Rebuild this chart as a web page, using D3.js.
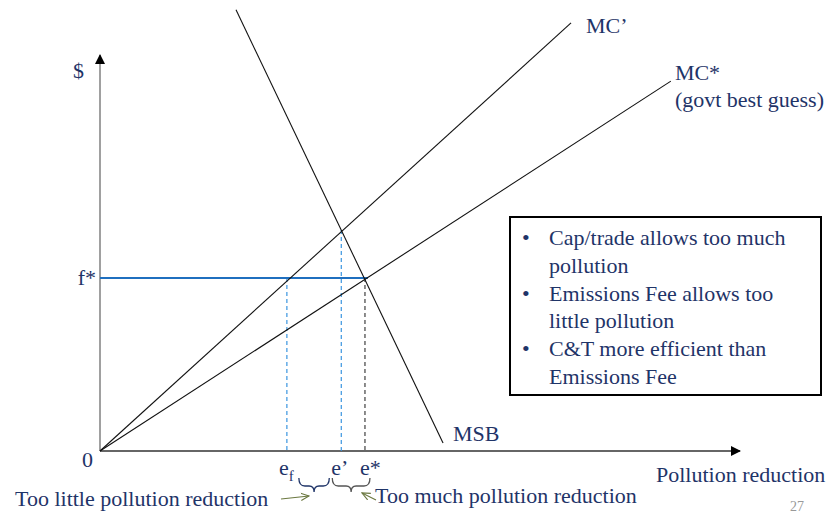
<!DOCTYPE html>
<html>
<head>
<meta charset="utf-8">
<script src="https://cdn.jsdelivr.net/npm/d3@7"></script>
<style>
  body { margin: 0; background: #fff; }
  text { font-family: "Times New Roman", "Liberation Serif", "DejaVu Serif", serif; fill: #1f3468; }
</style>
</head>
<body>
<div id="chart"></div>
<script>
// Chart values (in chart units, x = pollution reduction, y = $)
var mcPrime = [[0, 0], [73.6, 108.1]];
var mcStar = [[0, 0], [89.2, 93.4]];
var msb = [[21.25, 111.4], [53.6, 2.0]];
var fStar = 43.7;
var eF = 29.2;
var ePrime = 37.7;
var ePrimeY = 55.8;
var eStar = 41.4;
var bullets = [
  ["Cap/trade allows too much", "pollution"],
  ["Emissions Fee allows too", "little pollution"],
  ["C&T more efficient than", "Emissions Fee"]
];

var svgWidth = 836;
var svgHeight = 513;
var serif = "'Times New Roman', 'Liberation Serif', 'DejaVu Serif', serif";

var svg = d3.select("#chart")
  .append("svg")
  .attr("width", svgWidth)
  .attr("height", svgHeight);

var defs = svg.append("defs");
defs.append("marker")
  .attr("id", "tri")
  .attr("viewBox", "0 0 10 10")
  .attr("refX", 9).attr("refY", 5)
  .attr("markerWidth", 10).attr("markerHeight", 10)
  .attr("markerUnits", "userSpaceOnUse")
  .attr("orient", "auto")
  .append("path").attr("d", "M0,0 L10,5 L0,10 Z").attr("fill", "#000");
defs.append("marker")
  .attr("id", "open")
  .attr("viewBox", "0 0 10 10")
  .attr("refX", 9).attr("refY", 5)
  .attr("markerWidth", 9).attr("markerHeight", 9)
  .attr("markerUnits", "userSpaceOnUse")
  .attr("orient", "auto")
  .append("path").attr("d", "M0,1 L9,5 L0,9").attr("fill", "none")
  .attr("stroke", "#6b7840").attr("stroke-width", 1.3);

// scales
var x = d3.scaleLinear().domain([0, 100]).range([100, 740]);
var y = d3.scaleLinear().domain([0, 100]).range([451, 55]);

var line = d3.line().x(d => x(d[0])).y(d => y(d[1]));

// axes
svg.append("line")
  .attr("x1", x(0)).attr("y1", y(0))
  .attr("x2", x(0)).attr("y2", y(100))
  .attr("stroke", "#808080").attr("stroke-width", 1.5)
  .attr("marker-end", "url(#tri)");
svg.append("line")
  .attr("x1", x(0)).attr("y1", y(0))
  .attr("x2", x(100)).attr("y2", y(0))
  .attr("stroke", "#333").attr("stroke-width", 1.3)
  .attr("marker-end", "url(#tri)");

// dashed guides
svg.append("line")
  .attr("x1", x(eF)).attr("y1", y(fStar))
  .attr("x2", x(eF)).attr("y2", y(0))
  .attr("stroke", "#3a95e0").attr("stroke-width", 1.2)
  .attr("stroke-dasharray", "4,3");
svg.append("line")
  .attr("x1", x(ePrime)).attr("y1", y(ePrimeY))
  .attr("x2", x(ePrime)).attr("y2", y(0))
  .attr("stroke", "#3a95e0").attr("stroke-width", 1.2)
  .attr("stroke-dasharray", "4,3");
svg.append("line")
  .attr("x1", x(eStar)).attr("y1", y(fStar))
  .attr("x2", x(eStar)).attr("y2", y(0))
  .attr("stroke", "#666").attr("stroke-width", 1.5)
  .attr("stroke-dasharray", "4,3");

// f* line
svg.append("line")
  .attr("x1", x(0)).attr("y1", y(fStar))
  .attr("x2", x(eStar) + 3).attr("y2", y(fStar))
  .attr("stroke", "#1f6fbf").attr("stroke-width", 2);

// curves
[mcPrime, mcStar, msb].forEach(d => {
  svg.append("path")
    .attr("d", line(d))
    .attr("fill", "none")
    .attr("stroke", "#111")
    .attr("stroke-width", 1.1);
});

// labels
function label(tx, ty, s, anchor) {
  return svg.append("text")
    .attr("x", tx).attr("y", ty)
    .attr("font-family", serif)
    .attr("font-size", 22)
    .attr("text-anchor", anchor || "start")
    .text(s);
}
label(73, 78, "$");
label(x(0) - 4, y(fStar) + 7, "f*", "end");
label(x(0) - 7, y(0) + 16, "0", "end");
label(x(mcPrime[1][0]) + 15, y(mcPrime[1][1]) + 10, "MC\u2019");
label(x(mcStar[1][0]) + 4, y(mcStar[1][1]) - 1, "MC*");
label(x(mcStar[1][0]) + 4, y(mcStar[1][1]) + 26, "(govt best guess)");
label(x(msb[1][0]) + 10, y(msb[1][1]) - 2, "MSB");
label(656, 482, "Pollution reduction");

var efText = label(x(eF) - 8, 475, "e");
efText.append("tspan").attr("dy", 6).attr("font-size", 15).text("f");
label(x(ePrime) - 10, 475, "e\u2019");
label(x(eStar) - 5, 475, "e*");

label(15, 506, "Too little pollution reduction");
label(375, 503, "Too much pollution reduction");

svg.append("text")
  .attr("x", 790).attr("y", 511)
  .attr("font-family", serif)
  .attr("font-size", 14)
  .style("fill", "#999")
  .text("27");

// braces
function brace(x1, x2, yTop, color) {
  var m = (x1 + x2) / 2, h = 8;
  var p = `M${x1},${yTop} Q${x1},${yTop + h} ${x1 + 6},${yTop + h}` +
    ` L${m - 5},${yTop + h} Q${m},${yTop + h} ${m},${yTop + h + 6}` +
    ` Q${m},${yTop + h} ${m + 5},${yTop + h}` +
    ` L${x2 - 6},${yTop + h} Q${x2},${yTop + h} ${x2},${yTop}`;
  svg.append("path").attr("d", p).attr("fill", "none")
    .attr("stroke", color).attr("stroke-width", 1.3);
}
brace(x(eF) + 12, x(ePrime) - 12, 478, "#1f3468");
brace(x(ePrime) - 9, x(eStar) + 5, 478, "#555");

// arrows
svg.append("line")
  .attr("x1", 281).attr("y1", 499)
  .attr("x2", 309).attr("y2", 496)
  .attr("stroke", "#6b7840").attr("stroke-width", 1.2)
  .attr("marker-end", "url(#open)");
svg.append("line")
  .attr("x1", 376).attr("y1", 500)
  .attr("x2", 362).attr("y2", 493)
  .attr("stroke", "#6b7840").attr("stroke-width", 1.2)
  .attr("marker-end", "url(#open)");

// text box
var box = svg.append("g").attr("transform", "translate(510,217)");
box.append("rect")
  .attr("width", 311).attr("height", 178)
  .attr("fill", "#fff").attr("stroke", "#000").attr("stroke-width", 2);
bullets.forEach((b, i) => {
  var by = 28 + i * 55.5;
  box.append("text").attr("x", 12).attr("y", by)
    .attr("font-family", serif).attr("font-size", 22).text("\u2022");
  b.forEach((s, j) => {
    box.append("text").attr("x", 39).attr("y", by + j * 27.5)
      .attr("font-family", serif).attr("font-size", 22).text(s);
  });
});
</script>
</body>
</html>
